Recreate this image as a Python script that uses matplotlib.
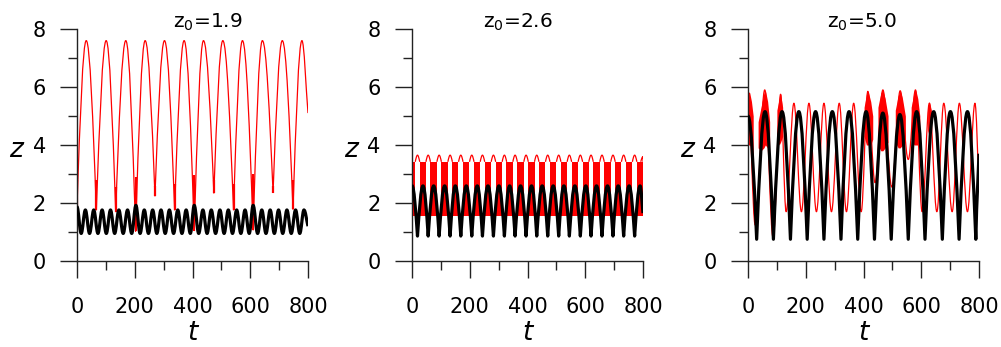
import matplotlib
matplotlib.use("Agg")
import matplotlib.pyplot as plt
from matplotlib.path import Path
from matplotlib.patches import PathPatch
from matplotlib.ticker import MultipleLocator

plt.rcParams['font.family'] = ['DejaVu Sans']
plt.rcParams['mathtext.fontset'] = 'dejavusans'

# ---------------- data ----------------
titles = ["z$_0$=1.9", "z$_0$=2.6", "z$_0$=5.0"]
x_ticks = [0, 200, 400, 600, 800]
y_ticks = [0, 2, 4, 6, 8]

# Panel 1 : black curve, successive extrema (peak / trough ...), last point = end value
b1_t = [0, 14.5, 29, 43.5, 58, 72.5, 87, 101.5, 116, 130.5, 145, 160, 175, 189.5,
        204, 218.5, 233, 247.5, 262, 276.5, 291, 305.5, 320, 334.5, 349, 363.5, 378, 392.5,
        406, 421.5, 436, 450.5, 465, 480, 495, 509.5, 524, 538.5, 553, 567.5, 582, 596.5,
        610, 625.5, 640, 654.5, 669, 683.5, 698, 712.5, 727, 742, 757, 771.5, 786, 800]
b1_z = [1.87, 0.95, 1.76, 0.95, 1.76, 0.95, 1.76, 0.95, 1.76, 0.95, 1.76, 0.95, 1.76, 0.95,
        1.92, 0.95, 1.76, 0.95, 1.76, 0.95, 1.76, 0.95, 1.76, 0.95, 1.76, 0.95, 1.76, 0.95,
        1.92, 0.95, 1.76, 0.95, 1.76, 0.95, 1.76, 0.95, 1.76, 0.95, 1.76, 0.95, 1.76, 0.95,
        1.92, 0.95, 1.76, 0.95, 1.76, 0.95, 1.76, 0.95, 1.76, 0.95, 1.76, 0.95, 1.76, 1.2]
# Panel 1 : red curve extrema
r1_t = [0, 32, 67, 101, 134, 169, 203, 236, 270, 303, 338, 371, 406, 438, 474, 505,
        542, 573, 610, 642, 679, 711, 748, 779, 800]
r1_z = [1.9, 7.6, 1.76, 7.6, 1.70, 7.6, 1.02, 7.6, 2.24, 7.6, 1.76, 7.6, 1.05, 7.6, 2.34, 7.6,
        1.76, 7.6, 1.07, 7.6, 2.36, 7.6, 1.78, 7.6, 5.1]
# Panel 1 : fast red wiggles at the troughs
r1_sp_t = [0, 67, 134, 203, 270, 338, 406, 474, 542, 610, 679, 748]
r1_sp_lo = [1.07, 1.76, 1.70, 1.02, 2.24, 1.76, 1.05, 2.34, 1.76, 1.07, 2.36, 1.78]
r1_sp_hi = [2.80, 2.80, 2.55, 2.90, 2.60, 2.65, 2.95, 2.80, 2.65, 3.00, 2.60, 2.80]

# Panel 2 : black curve extrema
b2_t = [0, 19, 38, 56, 75, 94, 113, 132, 150, 169, 188, 207, 226, 244, 263, 282, 301, 320,
        338, 357, 376, 395, 414, 432, 451, 470, 489, 508, 526, 545, 564, 583, 602, 620,
        639, 658, 677, 696, 714, 733, 752, 771, 790, 800]
b2_z = [2.60, 0.86, 2.59, 0.86, 2.59, 0.86, 2.59, 0.86, 2.59, 0.86, 2.59, 0.86, 2.59, 0.86,
        2.59, 0.86, 2.59, 0.86, 2.59, 0.86, 2.59, 0.86, 2.59, 0.86, 2.59, 0.86, 2.59, 0.86,
        2.59, 0.86, 2.59, 0.86, 2.59, 0.86, 2.59, 0.86, 2.59, 0.86, 2.59, 0.86, 2.59, 0.86,
        2.59, 1.65]
# Panel 2 : red dense band (centres of blocks) and arches between them
r2_block_t = [0, 38, 75, 113, 150, 188, 226, 263, 301, 338, 376, 414, 451, 489, 526, 564,
              602, 639, 677, 714, 752, 790]
r2_band_lo = 1.56
r2_band_hi = 3.42
r2_arch_t = [19, 56, 94, 132, 169, 207, 244, 282, 320, 357, 395, 432, 470, 508, 545, 583,
             620, 658, 696, 733, 771, 800]
r2_arch_z = [3.65, 3.65, 3.65, 3.65, 3.65, 3.65, 3.65, 3.65, 3.65, 3.65, 3.65, 3.65, 3.65,
             3.65, 3.65, 3.65, 3.65, 3.65, 3.65, 3.65, 3.65, 3.6]

# Panel 3 : black curve extrema (sharp troughs)
b3_t = [0, 30, 59, 88, 118, 147, 176, 205, 234, 263, 292, 322, 350, 380, 409, 438, 467,
        496, 526, 555, 584, 613, 643, 673, 701, 731, 760, 789, 800]
b3_z = [5.0, 0.75, 5.15, 0.75, 5.15, 0.75, 5.15, 0.75, 5.15, 0.75, 5.15, 0.75, 5.15, 0.75,
        5.15, 0.75, 5.10, 0.75, 5.05, 0.75, 5.15, 0.75, 5.15, 0.75, 5.15, 0.75, 5.15, 0.75, 3.7]
# Panel 3 : red curve extrema
r3_t = [0, 25, 58, 87, 113, 132, 159, 185, 211, 237, 263, 289, 316, 341, 366, 392, 415,
        440, 467, 498, 527, 555, 580, 603, 628, 654, 678, 707, 732, 760, 786, 800]
r3_z = [5.8, 1.24, 5.9, 0.8, 5.75, 1.7, 5.44, 1.7, 5.44, 1.7, 5.44, 1.7, 5.44, 1.7, 5.44,
        1.7, 5.85, 2.7, 5.9, 2.55, 5.87, 3.5, 5.9, 1.7, 5.44, 1.7, 5.44, 1.7, 5.44, 1.7, 5.44, 2.5]
# Panel 3 : red dense (fast oscillation) regions
r3_j_t = [[0, 6, 12, 18], [35, 45, 55, 60, 68, 75], [100, 108, 113, 120],
          [402, 410, 416, 425, 432], [450, 460, 467, 475, 485], [510, 520, 527, 535, 545],
          [565, 575, 581, 588, 595], [622, 628, 635]]
r3_j_lo = [[4.0, 4.0, 3.9, 3.5], [3.9, 3.8, 3.9, 4.0, 3.9, 3.6], [4.2, 4.0, 4.1, 4.3],
           [4.3, 4.0, 4.0, 4.0, 4.2], [4.0, 3.8, 3.8, 3.9, 4.1], [4.1, 3.9, 3.9, 4.0, 4.2],
           [4.2, 4.0, 4.0, 4.0, 4.3], [4.5, 4.3, 4.5]]
r3_j_hi = [[5.85, 5.8, 5.5, 5.0], [4.8, 5.3, 5.8, 5.9, 5.5, 4.8], [5.2, 5.6, 5.75, 5.3],
           [5.3, 5.75, 5.85, 5.5, 5.0], [5.3, 5.8, 5.9, 5.6, 5.0], [5.2, 5.7, 5.87, 5.6, 5.0],
           [5.3, 5.8, 5.9, 5.6, 5.0], [5.3, 5.5, 5.2]]

RED = '#ff0000'
BLACK = '#000000'


def kinds_for(zs, trough_kind, peak_kind='r'):
    """shape of each node: r = rounded extremum, s = cusp, l = plain end"""
    k = []
    n = len(zs)
    for i in range(n):
        if i == n - 1:
            k.append('l')
            continue
        nb = zs[i + 1]
        k.append(peak_kind if zs[i] > nb else trough_kind)
    return k


def smooth_curve(ax, ts, zs, kinds, color, lw, zorder):
    verts = [(ts[0], zs[0])]
    codes = [Path.MOVETO]
    for i in range(len(ts) - 1):
        t0, z0, t1, z1 = ts[i], zs[i], ts[i + 1], zs[i + 1]
        dt, dz = t1 - t0, z1 - z0
        k0, k1 = kinds[i], kinds[i + 1]
        if k0 == 'r':
            c1 = (t0 + 0.364 * dt, z0)
        elif k0 == 's':
            c1 = (t0 + dt / 3, z0 + 0.5236 * dz)
        else:
            c1 = (t0 + dt / 3, z0 + dz / 3)
        if k1 == 'r':
            c2 = (t1 - 0.364 * dt, z1)
        elif k1 == 's':
            c2 = (t1 - dt / 3, z1 - 0.5236 * dz)
        else:
            c2 = (t1 - dt / 3, z1 - dz / 3)
        verts += [c1, c2, (t1, z1)]
        codes += [Path.CURVE4] * 3
    patch = PathPatch(Path(verts, codes), fill=False, edgecolor=color, linewidth=lw,
                      zorder=zorder, joinstyle='round', capstyle='butt')
    ax.add_patch(patch)


fig = plt.figure(figsize=(10.01, 3.47), dpi=100)
lefts = [77 / 1001, 412 / 1001, 748 / 1001]
axes = [fig.add_axes([l, 86 / 347, 231 / 1001, 232 / 347]) for l in lefts]
title_x = [0.416, 0.309, 0.343]

for i, ax in enumerate(axes):
    ax.set_xlim(0, 800)
    ax.set_ylim(0, 8)
    for s in ['top', 'right']:
        ax.spines[s].set_visible(False)
    for s in ['left', 'bottom']:
        ax.spines[s].set_linewidth(1.0)
        ax.spines[s].set_color('#222222')
    ax.set_xticks(x_ticks)
    ax.set_yticks(y_ticks)
    ax.xaxis.set_minor_locator(MultipleLocator(100))
    ax.yaxis.set_minor_locator(MultipleLocator(1))
    ax.tick_params(which='major', direction='out', length=12.5, width=1.0, color='#222222',
                   labelsize=15)
    ax.tick_params(which='minor', direction='out', length=6.5, width=1.0, color='#222222')
    ax.tick_params(axis='y', which='major', pad=10)
    ax.tick_params(axis='x', which='major', pad=13.5)
    ax.text(title_x[i], 1.004, titles[i], transform=ax.transAxes, ha='left', va='baseline',
            fontsize=14.5)
    ax.text(-0.265, 0.478, 'z', transform=ax.transAxes, ha='center', va='center',
            fontsize=19, style='italic')
    ax.text(0.5, -0.31, 't', transform=ax.transAxes, ha='center', va='center',
            fontsize=19, style='italic')

# Panel 1
ax = axes[0]
smooth_curve(ax, r1_t, r1_z, kinds_for(r1_z, 's'), RED, 0.9, 2)
ax.vlines(r1_sp_t, r1_sp_lo, r1_sp_hi, color=RED, linewidth=1.6, zorder=2)
smooth_curve(ax, b1_t, b1_z, kinds_for(b1_z, 'r'), BLACK, 2.3, 3)

# Panel 2
ax = axes[1]
half_w = 11.0
for c in r2_block_t:
    ax.fill_between([max(c - half_w, 0), min(c + half_w, 800)], r2_band_lo, r2_band_hi,
                    color=RED, linewidth=0, zorder=2)
for t, z in zip(r2_arch_t, r2_arch_z):
    a0, a1 = t - 7.8, min(t + 7.8, 800)
    smooth_curve(ax, [a0, t, a1], [r2_band_hi, z, r2_band_hi], ['s', 'r', 's'], RED, 0.9, 2)
smooth_curve(ax, b2_t, b2_z, kinds_for(b2_z, 's'), BLACK, 2.3, 3)

# Panel 3
ax = axes[2]
for tt, lo, hi in zip(r3_j_t, r3_j_lo, r3_j_hi):
    ax.fill_between(tt, lo, hi, color=RED, linewidth=0, zorder=2)
smooth_curve(ax, r3_t, r3_z, kinds_for(r3_z, 'r'), RED, 0.9, 2)
smooth_curve(ax, b3_t, b3_z, kinds_for(b3_z, 's'), BLACK, 2.3, 3)

fig.savefig('out.png', dpi=100)
